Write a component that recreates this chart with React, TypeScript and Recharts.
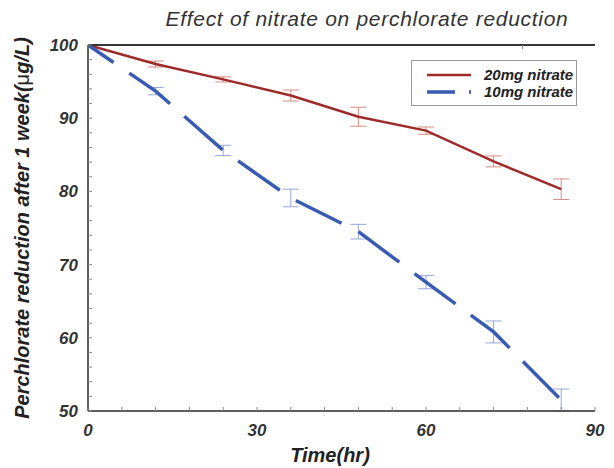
import { ErrorBar, Line, LineChart, ReferenceLine, XAxis, YAxis } from "recharts"

const hours = [0, 12, 24, 36, 48, 60, 72, 84]
const nitrate20 = [100, 97.4, 95.3, 93.1, 90.2, 88.3, 84.1, 80.3]
const nitrate20Err = [null, 0.4, 0.35, 0.75, 1.3, 0.5, 0.75, 1.4]
const nitrate10 = [100, 93.7, 85.6, 79.1, 74.5, 67.6, 60.8, 51.5]
const nitrate10Err = [null, 0.5, 0.7, 1.2, 1.0, 0.9, 1.5, 1.5]

const xTicks = [0, 6, 12, 18, 24, 30, 36, 42, 48, 54, 60, 66, 72, 78, 84, 90]
const yTicks = [50, 52, 54, 56, 58, 60, 62, 64, 66, 68, 70, 72, 74, 76, 78, 80, 82, 84, 86, 88, 90, 92, 94, 96, 98, 100]

const data = hours.map((h, i) => ({
  time: h,
  n20: nitrate20[i],
  n20Err: nitrate20Err[i],
  n10: nitrate10[i],
  n10Err: nitrate10Err[i],
}))

const FONT = "'Liberation Sans', Arial, sans-serif"
const RED = "#9e2a2b"
const BLUE = "#3a5bb3"
const AXIS = "#2a2a2a"

function BottomTick(props: any) {
  const { x, y, payload } = props
  const major = payload.value % 30 === 0
  return (
    <g>
      <line x1={x} x2={x} y1={y} y2={y - 4} stroke="#888" strokeWidth={1} />
      {major && (
        <text x={x} y={y + 25} textAnchor="middle" fontFamily={FONT} fontSize={17} fontWeight="bold" fontStyle="italic" fill="#333">
          {payload.value}
        </text>
      )}
    </g>
  )
}

function TopTick(props: any) {
  const { x, y } = props
  return <line x1={x} x2={x} y1={y} y2={y + 4} stroke="#888" strokeWidth={1} />
}

function LeftTick(props: any) {
  const { x, y, payload } = props
  const major = payload.value % 10 === 0
  return (
    <g>
      <line x1={x} x2={x + 4} y1={y} y2={y} stroke="#888" strokeWidth={1} />
      {major && (
        <text x={x - 10} y={y + 6} textAnchor="end" fontFamily={FONT} fontSize={17} fontWeight="bold" fontStyle="italic" fill="#333">
          {payload.value}
        </text>
      )}
    </g>
  )
}

function RightTick(props: any) {
  const { x, y } = props
  return <line x1={x} x2={x - 4} y1={y} y2={y} stroke="#888" strokeWidth={1} />
}

function ChartLegend() {
  const row = { display: "flex", alignItems: "center", height: 17 }
  const label = { fontFamily: FONT, fontSize: 15, fontWeight: "bold" as const, fontStyle: "italic" as const, color: "#222", marginLeft: 12 }
  return (
    <div
      style={{
        position: "absolute",
        left: 411,
        top: 60,
        width: 166,
        height: 46,
        border: "1px solid #999",
        background: "#fff",
        boxSizing: "border-box",
        padding: "5px 0 0 15px",
      }}
    >
      <div style={row}>
        <svg width={45} height={6}>
          <line x1={0} x2={44} y1={3} y2={3} stroke={RED} strokeWidth={2.5} />
        </svg>
        <span style={label}>20mg nitrate</span>
      </div>
      <div style={row}>
        <svg width={45} height={6}>
          <line x1={0} x2={44} y1={3} y2={3} stroke={BLUE} strokeWidth={3.5} strokeDasharray="28 14" />
        </svg>
        <span style={label}>10mg nitrate</span>
      </div>
    </div>
  )
}

export default function App() {
  return (
    <div style={{ position: "relative", width: 614, height: 468, background: "#fff" }}>
      <style>{"body{margin:0}"}</style>
      <LineChart width={614} height={468} data={data} margin={{ top: 44, right: 19, bottom: 0, left: 0 }}>
        <XAxis
          dataKey="time"
          type="number"
          domain={[0, 90]}
          ticks={xTicks}
          interval={0}
          height={57}
          tickSize={0}
          tickMargin={0}
          tickLine={false}
          tick={<BottomTick />}
          axisLine={{ stroke: AXIS, strokeWidth: 1.5 }}
        />
        <XAxis
          xAxisId="top"
          orientation="top"
          type="number"
          domain={[0, 90]}
          ticks={xTicks}
          interval={0}
          height={1}
          tickSize={0}
          tickMargin={0}
          tickLine={false}
          tick={<TopTick />}
          axisLine={{ stroke: AXIS, strokeWidth: 1.5 }}
        />
        <YAxis
          type="number"
          domain={[50, 100]}
          ticks={yTicks}
          interval={0}
          width={88}
          tickSize={0}
          tickMargin={0}
          tickLine={false}
          allowDataOverflow
          tick={<LeftTick />}
          axisLine={{ stroke: AXIS, strokeWidth: 1.5 }}
        />
        <YAxis
          yAxisId="right"
          orientation="right"
          type="number"
          domain={[50, 100]}
          ticks={yTicks}
          interval={0}
          width={0}
          tickSize={0}
          tickMargin={0}
          tickLine={false}
          tick={<RightTick />}
          axisLine={{ stroke: AXIS, strokeWidth: 1.5 }}
        />
        <ReferenceLine y={100} stroke={AXIS} strokeWidth={1.5} />
        <Line
          dataKey="n20"
          type="linear"
          stroke={RED}
          strokeWidth={2.5}
          dot={false}
          isAnimationActive={false}
        >
          <ErrorBar dataKey="n20Err" width={8} stroke="#d98a80" strokeWidth={1} />
        </Line>
        <Line
          dataKey="n10"
          type="linear"
          stroke={BLUE}
          strokeWidth={3.5}
          strokeDasharray="51 19"
          strokeDashoffset={20}
          dot={false}
          isAnimationActive={false}
        >
          <ErrorBar dataKey="n10Err" width={8} stroke="#97a6dc" strokeWidth={1} />
        </Line>
      </LineChart>
      <svg width={614} height={468} style={{ position: "absolute", left: 0, top: 0, pointerEvents: "none" }}>
        <text
          transform="translate(29,228) rotate(-90)"
          textAnchor="middle"
          fontFamily={FONT}
          fontSize={20}
          fontWeight="bold"
          fontStyle="italic"
          fill="#222"
        >
          Perchlorate reduction after 1 week(<tspan fontStyle="normal" fontWeight="normal">μ</tspan>g/L)
        </text>
        <text x={330} y={462} textAnchor="middle" fontFamily={FONT} fontSize={20} fontWeight="bold" fontStyle="italic" fill="#222">
          Time(hr)
        </text>
        <text x={367} y={26} textAnchor="middle" fontFamily={FONT} fontSize={21} fontStyle="italic" fill="#333" letterSpacing={0.7}>
          Effect of nitrate on perchlorate reduction
        </text>
      </svg>
      <ChartLegend />
    </div>
  )
}
